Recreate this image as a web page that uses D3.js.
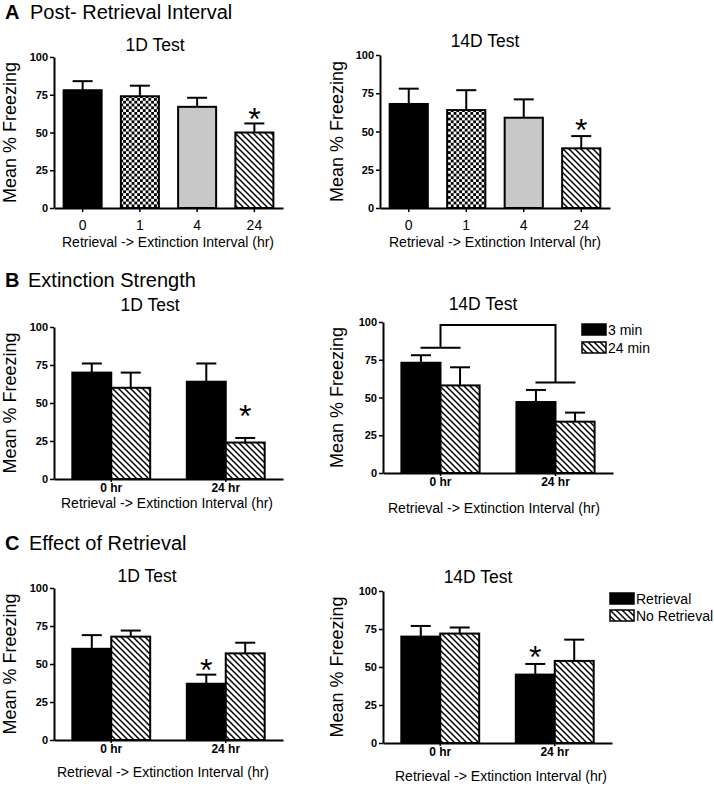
<!DOCTYPE html>
<html>
<head>
<meta charset="utf-8">
<title>Post-retrieval interval, extinction strength, effect of retrieval</title>
<script src="https://cdn.jsdelivr.net/npm/d3@7"></script>
<style>
  body { margin: 0; background: #fff; }
  text { font-family: "Liberation Sans", Arial, Helvetica, sans-serif; fill: #000; }
</style>
</head>
<body>
<svg id="fig" width="714" height="786"></svg>
<script>
  // ---- data ----
  const yTicks = [0, 25, 50, 75, 100];

  // A: post-retrieval interval (single series, 4 intervals)
  const intervals = ["0", "1", "4", "24"];
  const a1dMean = [78, 74, 67, 50];
  const a1dSem = [6, 7, 6, 6];
  const a14dMean = [68, 64, 59, 39];
  const a14dSem = [10, 13, 12, 8];

  // B: extinction strength (3 min vs 24 min extinction)
  const groups = ["0 hr", "24 hr"];
  const bSeries = ["3 min", "24 min"];
  const b1dMean = [[70, 64], [60, 24]];
  const b1dSem = [[6, 12], [10, 3]];
  const b14dMean = [[73, 47], [58, 34]];
  const b14dSem = [[5, 8], [12, 6]];
  const b14dBracket = [83, 60, 98]; // 0 hr level, 24 hr level, top

  // C: effect of retrieval
  const cSeries = ["Retrieval", "No Retrieval"];
  const c1dMean = [[60, 37], [68, 57]];
  const c1dSem = [[9, 6], [4, 7]];
  const c14dMean = [[70, 45], [72, 54]];
  const c14dSem = [[7, 7], [4, 14]];

  // significance stars: [group, series, level]
  const a1dStar = [3, 0, 63.5];
  const a14dStar = [3, 0, 55.5];
  const b1dStar = [1, 1, 46];
  const c1dStar = [1, 0, 50.5];
  const c14dStar = [1, 0, 61];

  const svg = d3.select("#fig");

  // fills
  const defs = svg.append("defs");
  const hatch = defs.append("pattern").attr("id", "hatch")
      .attr("patternUnits", "userSpaceOnUse").attr("width", 6).attr("height", 6);
  hatch.append("rect").attr("width", 6).attr("height", 6).attr("fill", "#fff");
  hatch.append("path").attr("d", "M-1,-1L7,7M-1,5L1,7M5,-1L7,1")
      .attr("stroke", "#000").attr("stroke-width", 1.5);
  const check = defs.append("pattern").attr("id", "check")
      .attr("patternUnits", "userSpaceOnUse").attr("width", 5.6).attr("height", 5.6);
  check.append("rect").attr("width", 5.6).attr("height", 5.6).attr("fill", "#fff");
  check.append("rect").attr("width", 2.8).attr("height", 2.8).attr("fill", "#000");
  check.append("rect").attr("x", 2.8).attr("y", 2.8).attr("width", 2.8).attr("height", 2.8).attr("fill", "#000");

  const aFills = ["#000", "url(#check)", "#c8c8c8", "url(#hatch)"];
  const pairFills = ["#000", "url(#hatch)"];

  // section headings
  function heading(letter, label, baseline, tx) {
    const t = svg.append("text").attr("x", 5).attr("y", baseline).style("font-size", "20px");
    t.append("tspan").style("font-weight", "bold").text(letter);
    t.append("tspan").attr("x", tx).text(label);
  }
  heading("A", "Post- Retrieval Interval", 19, 30);
  heading("B", "Extinction Strength", 287, 28);
  heading("C", "Effect of Retrieval", 550, 29);

  // common frame: axes, labels, title
  function frame(p, x, boldTicks) {
    const y = d3.scaleLinear().domain([0, 100]).range([p.bottom, p.top]);
    const g = svg.append("g");

    const ya = g.append("g").attr("transform", `translate(${p.left},0)`)
        .call(d3.axisLeft(y).tickValues(yTicks).tickSize(4).tickSizeOuter(0).tickPadding(2));
    ya.selectAll("text").style("font-size", "11px").style("font-weight", "bold");

    const xa = g.append("g").attr("transform", `translate(0,${p.bottom})`)
        .call(d3.axisBottom(x).tickSize(boldTicks ? 3 : 4).tickSizeOuter(0).tickPadding(boldTicks ? 1 : 8));
    xa.selectAll("text").style("font-size", boldTicks ? "12px" : "14px")
        .style("font-weight", boldTicks ? "bold" : "normal");

    g.selectAll(".domain").attr("stroke", "#000").attr("stroke-width", 2);
    g.selectAll(".tick line").attr("stroke", "#000").attr("stroke-width", 1.5);
    g.selectAll(".tick text").attr("fill", "#000").attr("font-family", null);

    g.append("text").attr("text-anchor", "middle")
        .attr("transform", `translate(${p.ylabX},${(p.top + p.bottom) / 2}) rotate(-90)`)
        .style("font-size", "18px").text("Mean % Freezing");
    g.append("text").attr("x", p.titleX).attr("y", p.titleY).attr("text-anchor", "middle")
        .style("font-size", "17.5px").text(p.title);
    g.append("text").attr("x", p.xtX).attr("y", p.xtY).attr("text-anchor", "middle")
        .style("font-size", "14px").text("Retrieval -> Extinction Interval (hr)");
    return { g, y };
  }

  function bar(g, cx, w, y, mean, sem, fill) {
    g.append("line").attr("x1", cx).attr("x2", cx).attr("y1", y(mean)).attr("y2", y(mean + sem))
        .attr("stroke", "#000").attr("stroke-width", 2);
    g.append("line").attr("x1", cx - 10).attr("x2", cx + 10).attr("y1", y(mean + sem)).attr("y2", y(mean + sem))
        .attr("stroke", "#000").attr("stroke-width", 2);
    g.append("rect").attr("x", cx - w / 2).attr("y", y(mean))
        .attr("width", w).attr("height", y(0) - y(mean))
        .attr("fill", fill).attr("stroke", "#000").attr("stroke-width", 2);
  }

  function star(g, cx, y, level) {
    g.append("text").attr("x", cx).attr("y", y(level) + 18).attr("text-anchor", "middle")
        .style("font-size", "32px").text("*");
  }

  function singlePanel(p, means, sems, st) {
    const x = d3.scaleBand().domain(intervals).range([p.left, p.right])
        .paddingInner(0.336).paddingOuter(0.168);
    const { g, y } = frame(p, x, false);
    intervals.forEach((c, i) =>
      bar(g, x(c) + x.bandwidth() / 2, x.bandwidth(), y, means[i], sems[i], aFills[i]));
    star(g, x(intervals[st[0]]) + x.bandwidth() / 2, y, st[2]);
  }

  function pairPanel(p, series, means, sems, st) {
    const x0 = d3.scaleBand().domain(groups).range([p.left, p.right])
        .paddingInner(0.32).paddingOuter(0.16);
    const x1 = d3.scaleBand().domain(series).range([0, x0.bandwidth()]);
    const { g, y } = frame(p, x0, true);
    groups.forEach((gr, gi) => series.forEach((s, si) =>
      bar(g, x0(gr) + x1(s) + x1.bandwidth() / 2, x1.bandwidth(), y,
          means[si][gi], sems[si][gi], pairFills[si])));
    if (st) star(g, x0(groups[st[0]]) + x1(series[st[1]]) + x1.bandwidth() / 2, y, st[2]);
    return { g, x0, x1, y };
  }

  function legend(series, lx, ly, gap) {
    series.forEach((s, i) => {
      svg.append("rect").attr("x", lx).attr("y", ly + i * gap).attr("width", 24).attr("height", 11)
          .attr("fill", pairFills[i]).attr("stroke", "#000").attr("stroke-width", 1.5);
      svg.append("text").attr("x", lx + 26).attr("y", ly + i * gap + 10.5)
          .style("font-size", "14px").text(s);
    });
  }

  // ---- panel A ----
  singlePanel({ left: 54, right: 283, top: 57, bottom: 208, ylabX: 16, title: "1D Test",
    titleX: 155, titleY: 51, xtX: 168, xtY: 247 }, a1dMean, a1dSem, a1dStar);
  singlePanel({ left: 380, right: 610, top: 55, bottom: 208, ylabX: 343, title: "14D Test",
    titleX: 485, titleY: 47, xtX: 495, xtY: 247 }, a14dMean, a14dSem, a14dStar);

  // ---- panel B ----
  pairPanel({ left: 54, right: 283, top: 327, bottom: 479, ylabX: 16, title: "1D Test",
    titleX: 150, titleY: 311, xtX: 167, xtY: 508 }, bSeries, b1dMean, b1dSem, b1dStar);
  const b2 = pairPanel({ left: 383, right: 613, top: 322, bottom: 473, ylabX: 343, title: "14D Test",
    titleX: 483, titleY: 310, xtX: 494, xtY: 513 }, bSeries, b14dMean, b14dSem, null);
  // bracket between interval groups
  const c0 = b2.x0(groups[0]) + b2.x0.bandwidth() / 2;
  const c1 = b2.x0(groups[1]) + b2.x0.bandwidth() / 2;
  b2.g.append("path")
      .attr("d", `M${c0 - 20},${b2.y(b14dBracket[0])}H${c0 + 20}` +
                 `M${c0},${b2.y(b14dBracket[0])}V${b2.y(b14dBracket[2])}H${c1}V${b2.y(b14dBracket[1])}` +
                 `M${c1 - 20},${b2.y(b14dBracket[1])}H${c1 + 20}`)
      .attr("fill", "none").attr("stroke", "#000").attr("stroke-width", 2);
  legend(bSeries, 582, 324, 18);

  // ---- panel C ----
  pairPanel({ left: 54, right: 283, top: 588, bottom: 740, ylabX: 16, title: "1D Test",
    titleX: 147, titleY: 582, xtX: 163, xtY: 777 }, cSeries, c1dMean, c1dSem, c1dStar);
  pairPanel({ left: 383, right: 612, top: 591, bottom: 743, ylabX: 343, title: "14D Test",
    titleX: 478, titleY: 583, xtX: 501, xtY: 781 }, cSeries, c14dMean, c14dSem, c14dStar);
  legend(cSeries, 610, 593, 17);
</script>
</body>
</html>
